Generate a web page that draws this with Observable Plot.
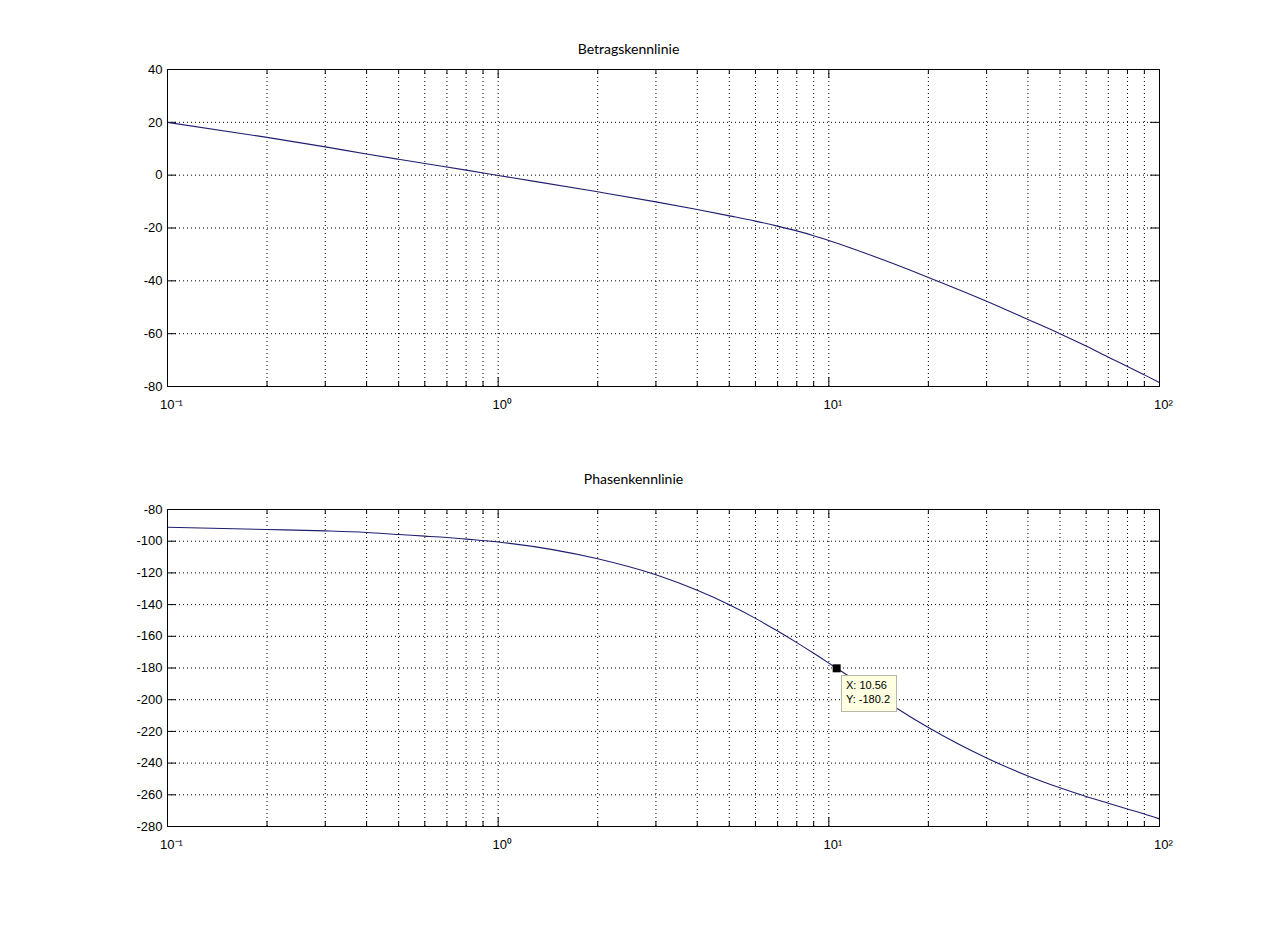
<!DOCTYPE html>
<html>
<head>
<meta charset="utf-8">
<script src="https://cdn.jsdelivr.net/npm/d3@7"></script>
<script src="https://cdn.jsdelivr.net/npm/@observablehq/plot@0.6"></script>
<style>
  html, body { margin: 0; padding: 0; background: #ffffff; }
  #fig { position: relative; width: 1281px; height: 929px; background: #ffffff; overflow: hidden; }
  #fig > div, #fig > svg { position: absolute; left: 0; }
</style>
</head>
<body>
<div id="fig"></div>
<script>
// ---------- data ----------
const magFreq = [0.1, 0.2, 0.3, 0.4, 0.5, 0.6, 0.8, 1, 2, 3, 4, 5, 6, 7, 8, 9, 10, 15, 20, 30, 40, 50, 60, 70, 80, 90, 100];
const magDb   = [20, 14.3, 10.7, 8.0, 6.0, 4.4, 1.9, -0.1, -6.3, -10.1, -13.0, -15.4, -17.4, -19.3, -21.1, -22.9, -24.7, -32.6, -38.7, -47.7, -54.6, -60.0, -64.7, -68.9, -72.4, -75.6, -78.5];

const phaseFreq = [0.1, 0.2, 0.3, 0.4, 0.5, 0.6, 0.7, 0.8, 1, 2, 3, 4, 5, 6, 7, 8, 9, 10, 10.56, 12, 14, 16, 20, 30, 40, 50, 60, 70, 80, 90, 100];
const phaseDeg  = [-91.2, -92.6, -93.5, -94.5, -95.8, -96.8, -97.7, -98.7, -100.5, -111.1, -121.2, -131.0, -140.1, -148.7, -156.7, -164.0, -170.7, -176.9, -180.2, -187.7, -197.2, -205.2, -217.6, -236.8, -248.1, -255.6, -261.1, -265.3, -268.9, -272.1, -275.2];

const titles = ["Betragskennlinie", "Phasenkennlinie"];

const xMajorTicks = [0.1, 1, 10, 100];
const xTickLabels = ["10\u207B\u00B9", "10\u2070", "10\u00B9", "10\u00B2"];
const xMinorTicks = [];
for (const dec of [0.1, 1, 10]) for (let k = 2; k <= 9; k++) xMinorTicks.push(+(k * dec).toPrecision(3));

const magTicks   = [-80, -60, -40, -20, 0, 20, 40];
const phaseTicks = [-280, -260, -240, -220, -200, -180, -160, -140, -120, -100, -80];

const tipX = [10.56];
const tipY = [-180.2];
const tipLabels = ["X: 10.56", "Y: -180.2"];

// ---------- drawing ----------
const lineColor = "#1e1e6e";
const axisFont = "'Liberation Sans', Arial, sans-serif";
const grid = {stroke: "#000", strokeWidth: 1, strokeDasharray: "1,3"};

function bode({xs, ys, yTicks, title, top, height, marginBottom, titleDy, titleDx, tip}) {
  const marginTop = 69, marginLeft = 167, marginRight = 122;
  const innerH = height - marginTop - marginBottom;
  const innerW = 1281 - marginLeft - marginRight;
  const data = xs.map((x, i) => ({x, y: ys[i]}));
  const yMin = yTicks[0], yMax = yTicks[yTicks.length - 1];
  const inner = yTicks.slice(1, -1);
  const marks = [
    Plot.ruleX(xMinorTicks.concat(xMajorTicks.slice(1, -1)), grid),
    Plot.ruleY(inner, grid),
    // inward ticks (bottom / top)
    Plot.ruleX(xMajorTicks, {stroke: "#000", insetTop: innerH - 9}),
    Plot.ruleX(xMajorTicks, {stroke: "#000", insetBottom: innerH - 9}),
    Plot.ruleX(xMinorTicks, {stroke: "#000", insetTop: innerH - 5}),
    Plot.ruleX(xMinorTicks, {stroke: "#000", insetBottom: innerH - 5}),
    // inward ticks (left / right)
    Plot.ruleY(yTicks, {stroke: "#000", insetRight: innerW - 9}),
    Plot.ruleY(yTicks, {stroke: "#000", insetLeft: innerW - 9}),
    Plot.line(data, {x: "x", y: "y", stroke: lineColor, strokeWidth: 1.1, curve: "monotone-x"}),
    Plot.frame({stroke: "#000", strokeWidth: 1}),
    Plot.axisX({ticks: xMajorTicks, tickFormat: d => xTickLabels[xMajorTicks.indexOf(d)], tickSize: 0, tickPadding: 13, label: null, dx: 4, fontSize: 13, fontFamily: axisFont}),
    Plot.axisY({ticks: yTicks, tickFormat: d => String(d), tickSize: 0, tickPadding: 5, label: null, fontSize: 13, fontFamily: axisFont}),
    Plot.text([title], {frameAnchor: "top", dy: titleDy, dx: titleDx, fontFamily: "Lato, 'Open Sans', sans-serif", fontSize: 14, fill: "#000"})
  ];
  if (tip) {
    marks.push(Plot.dot(tipX.map((x, i) => ({x, y: tipY[i]})), {x: "x", y: "y", symbol: "square", r: 4.5, fill: "#000", stroke: "none"}));
    marks.push((index, scales) => {
      const cx = scales.x(tipX[0]), cy = scales.y(tipY[0]);
      const g = d3.create("svg:g");
      g.append("rect")
        .attr("x", Math.round(cx) + 5.5).attr("y", Math.round(cy) + 7.5)
        .attr("width", 55).attr("height", 36)
        .attr("fill", "#ffffe1").attr("stroke", "#b8b8a8").attr("stroke-width", 1);
      tipLabels.forEach((t, i) => {
        g.append("text")
          .attr("x", Math.round(cx) + 10).attr("y", Math.round(cy) + 21 + i * 14)
          .attr("text-anchor", "start")
          .attr("font-family", axisFont)
          .attr("font-size", 11).attr("fill", "#000").text(t);
      });
      return g.node();
    });
  }
  const svg = Plot.plot({
    width: 1281, height,
    marginTop, marginBottom, marginLeft, marginRight,
    x: {type: "log", domain: [0.1, 100]},
    y: {domain: [yMin, yMax]},
    style: {fontFamily: axisFont, fontSize: "13px", background: "transparent", color: "#000", overflow: "visible"},
    marks
  });
  svg.style.top = top + "px";
  return svg;
}

const fig = document.getElementById("fig");
fig.appendChild(bode({xs: magFreq, ys: magDb, yTicks: magTicks, title: titles[0], top: 0, height: 440, marginBottom: 54, titleDy: -25, titleDx: -35, tip: false}));
fig.appendChild(bode({xs: phaseFreq, ys: phaseDeg, yTicks: phaseTicks, title: titles[1], top: 440, height: 489, marginBottom: 103, titleDy: -35, titleDx: -30, tip: true}));
</script>
</body>
</html>
